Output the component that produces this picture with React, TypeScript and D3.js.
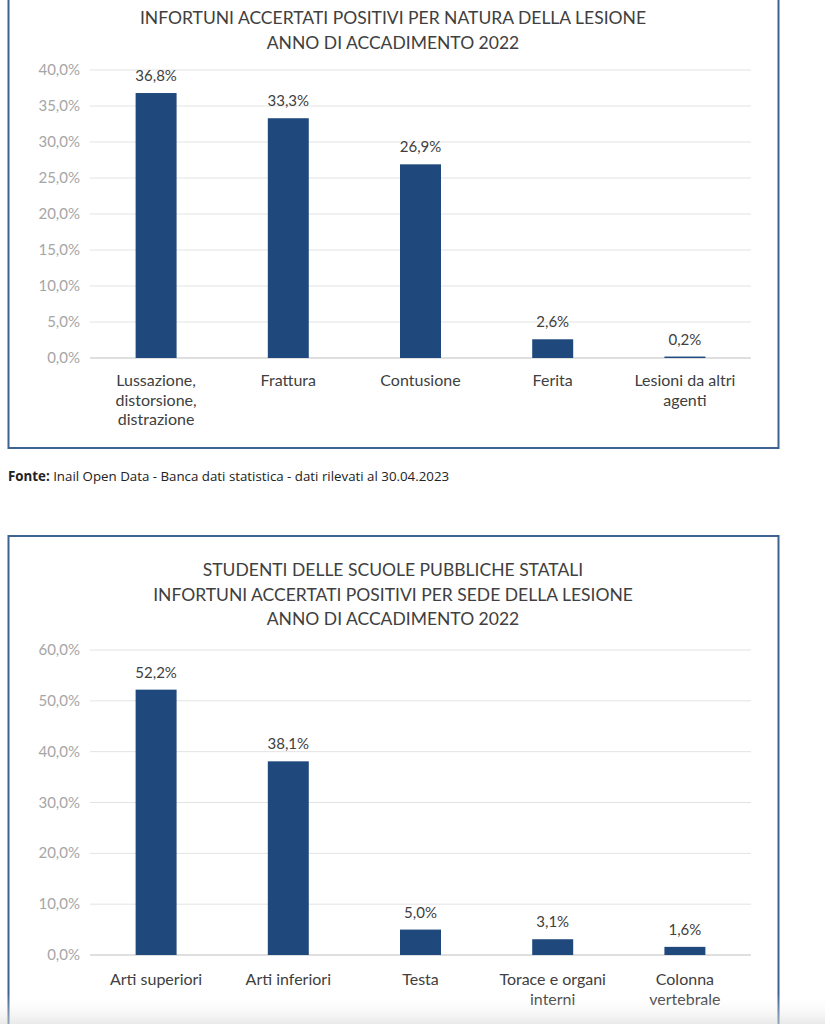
import React from "react";
import * as d3 from "d3";

const natCategories = [["Lussazione,", "distorsione,", "distrazione"], ["Frattura"], ["Contusione"], ["Ferita"], ["Lesioni da altri", "agenti"]];
const natValues = [36.8, 33.3, 26.9, 2.6, 0.2];
const natTicks = [0, 5, 10, 15, 20, 25, 30, 35, 40];
const natTitle = ["INFORTUNI ACCERTATI POSITIVI PER NATURA DELLA LESIONE", "ANNO DI ACCADIMENTO 2022"];

const sedeCategories = [["Arti superiori"], ["Arti inferiori"], ["Testa"], ["Torace e organi", "interni"], ["Colonna", "vertebrale"]];
const sedeValues = [52.2, 38.1, 5.0, 3.1, 1.6];
const sedeTicks = [0, 10, 20, 30, 40, 50, 60];
const sedeTitle = ["STUDENTI DELLE SCUOLE PUBBLICHE STATALI", "INFORTUNI ACCERTATI POSITIVI PER SEDE DELLA LESIONE", "ANNO DI ACCADIMENTO 2022"];

const fmt = (v: number) => v.toFixed(1).replace(".", ",") + "%";
const FONT = "Lato, 'Open Sans', sans-serif";
const BAR = "#1f497d";
const TXT = "#404040";

type ChartProps = {
  cats: string[][];
  vals: number[];
  ticks: number[];
  title: string[];
  titleY: number;
  top: number;
  bottom: number;
  labelY: number;
};

function Chart({ cats, vals, ticks, title, titleY, top, bottom, labelY }: ChartProps) {
  const x = d3.scaleBand<number>().domain(d3.range(vals.length)).range([90, 751]).paddingInner(0.69).paddingOuter(0.345);
  const y = d3.scaleLinear().domain([0, ticks[ticks.length - 1]]).range([bottom, top]);
  return (
    <g fontFamily={FONT}>
      {title.map((t, i) => (
        <text key={i} x={393} y={titleY + i * 24.5} textAnchor="middle" fontSize={17.5} fill={TXT}>{t}</text>
      ))}
      {ticks.map((t) => (
        <g key={t}>
          <line x1={90} x2={751} y1={y(t)} y2={y(t)} stroke={t === 0 ? "#bfbfbf" : "#e3e3e3"} strokeWidth={1} />
          <text x={80} y={y(t) + 5} textAnchor="end" fontSize={15} fill="#a6a6a6">{fmt(t)}</text>
        </g>
      ))}
      {vals.map((v, i) => (
        <g key={i}>
          <rect x={x(i)} y={y(v)} width={x.bandwidth()} height={y(0) - y(v)} fill={BAR} />
          <text x={(x(i) as number) + x.bandwidth() / 2} y={y(v) - 12} textAnchor="middle" fontSize={15} fill={TXT}>{fmt(v)}</text>
          {cats[i].map((l, j) => (
            <text key={j} x={(x(i) as number) + x.bandwidth() / 2} y={labelY + j * 19.5} textAnchor="middle" fontSize={16} fill={TXT}>{l}</text>
          ))}
        </g>
      ))}
    </g>
  );
}

export default function App() {
  return (
    <svg width={825} height={1024} style={{ position: "absolute", left: 0, top: 0 }}>
      <defs>
        <linearGradient id="shade" x1="0" y1="0" x2="0" y2="1">
          <stop offset="0" stopColor="#ffffff" stopOpacity={0} />
          <stop offset="1" stopColor="#d8d8d8" stopOpacity={0.55} />
        </linearGradient>
      </defs>
      <rect x={0} y={0} width={825} height={1024} fill="#fff" />
      <rect x={8.5} y={-20} width={770} height={468} fill="none" stroke="#3f6390" strokeWidth={2} />
      <Chart cats={natCategories} vals={natValues} ticks={natTicks} title={natTitle} titleY={24} top={70} bottom={358} labelY={386} />
      <text x={8} y={481} fontFamily="'Open Sans', sans-serif" fontSize={13.3} fill="#222">
        <tspan fontWeight="bold">Fonte:</tspan> Inail Open Data - Banca dati statistica - dati rilevati al 30.04.2023
      </text>
      <rect x={8.5} y={536} width={770} height={520} fill="none" stroke="#3f6390" strokeWidth={2} />
      <Chart cats={sedeCategories} vals={sedeValues} ticks={sedeTicks} title={sedeTitle} titleY={576} top={650} bottom={955} labelY={985} />
      <rect x={0} y={994} width={825} height={30} fill="url(#shade)" />
    </svg>
  );
}
